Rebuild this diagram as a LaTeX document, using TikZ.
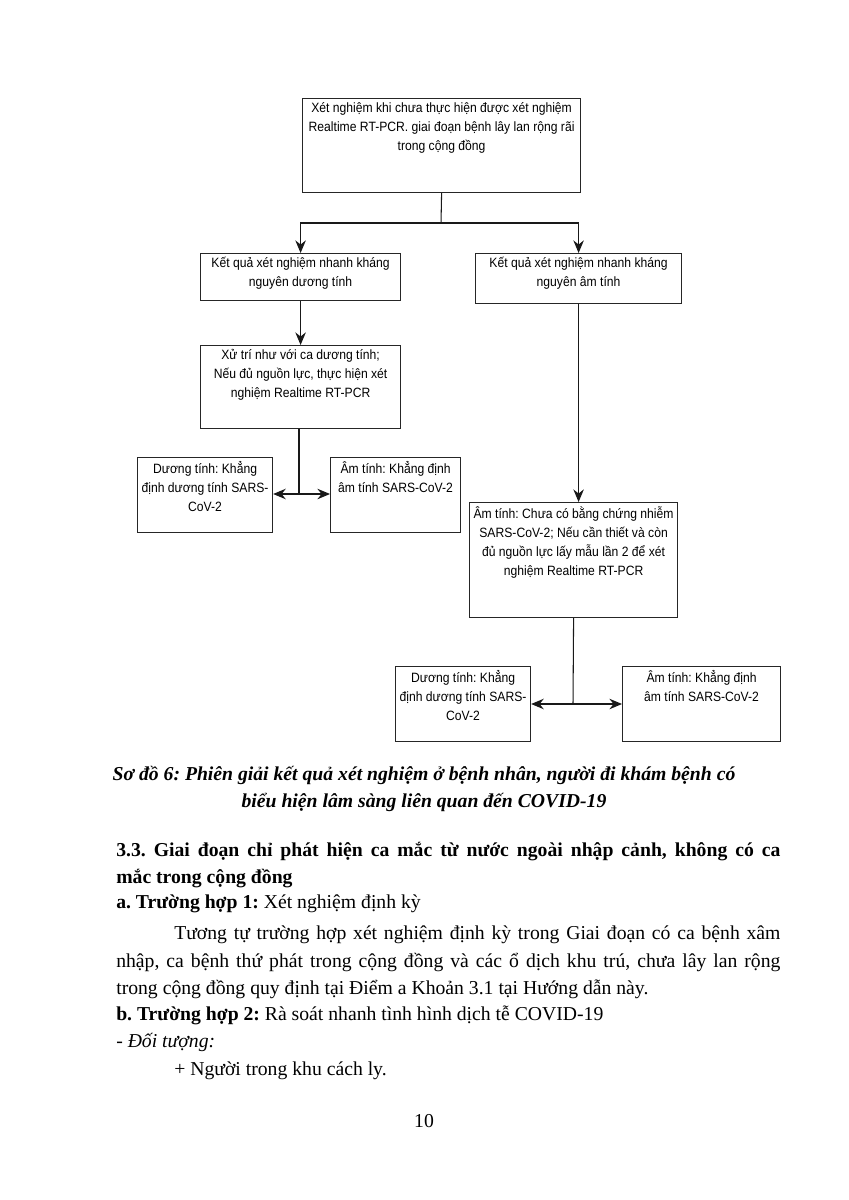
\documentclass[tikz,border=0pt]{standalone}
\usepackage{fontspec}
\setmainfont{Liberation Serif}
\newfontfamily\boxfont[FakeStretch=0.9]{Liberation Sans}
\usetikzlibrary{positioning}
\usetikzlibrary{arrows.meta}
\frenchspacing
\tikzset{frame/.style={draw=black!85, line width=0.8pt, anchor=north west, inner sep=0pt}}
\tikzset{boxtext/.style={font=\boxfont\fontsize{9.6}{13.5}\selectfont, align=center, anchor=north, inner sep=3pt}}
\tikzset{link/.style={line width=0.75pt, black!90}}
\tikzset{arrow/.style={link, -{Stealth[length=9pt,width=7.5pt,inset=3pt]}}}
\tikzset{twoway/.style={link, {Stealth[length=9pt,width=7.5pt,inset=3pt]}-{Stealth[length=9pt,width=7.5pt,inset=3pt]}}}
\tikzset{body/.style={font=\fontsize{14}{19}\selectfont, anchor=base west, inner sep=0pt}}
\tikzset{caption/.style={font=\fontsize{14}{19}\selectfont\bfseries\itshape, anchor=base, inner sep=0pt}}

\begin{document}
\begin{tikzpicture}[x=0.025cm, y=-0.025cm]
	\fill[white] (0,0) rectangle (848,1200);
	\useasboundingbox (0,0) rectangle (848,1200);
	% boxes of the chart
	\node [frame, minimum width=6.95cm, minimum height=2.35cm] (start) at (302,98) {};
	\node [frame, minimum width=5cm, minimum height=1.175cm] (pos) at (200,253) {};
	\node [frame, minimum width=5.15cm, minimum height=1.25cm] (neg) at (475,253) {};
	\node [frame, minimum width=5cm, minimum height=2.075cm] (xutri) at (200,345) {};
	\node [frame, minimum width=3.375cm, minimum height=1.875cm] (dt1) at (137,457) {};
	\node [frame, minimum width=3.25cm, minimum height=1.875cm] (at1) at (330,457) {};
	\node [frame, minimum width=5.2cm, minimum height=2.875cm] (chuaco) at (469,502) {};
	\node [frame, minimum width=3.375cm, minimum height=1.875cm] (dt2) at (395,666) {};
	\node [frame, minimum width=3.95cm, minimum height=1.875cm] (at2) at (622,666) {};
	% texts of the boxes
	\node [boxtext] (starttxt) at (start.north) {Xét nghiệm khi chưa thực hiện được xét nghiệm\\Realtime RT-PCR. giai đoạn bệnh lây lan rộng rãi\\trong cộng đồng};
	\node [boxtext] (postxt) at (pos.north) {Kết quả xét nghiệm nhanh kháng\\nguyên dương tính};
	\node [boxtext] (negtxt) at (neg.north) {Kết quả xét nghiệm nhanh kháng\\nguyên âm tính};
	\node [boxtext] (xutritxt) at (xutri.north) {Xử trí như với ca dương tính;\\Nếu đủ nguồn lực, thực hiện xét\\nghiệm Realtime RT-PCR};
	\node [boxtext] (dt1txt) at (dt1.north) {Dương tính: Khẳng\\định dương tính SARS-\\CoV-2};
	\node [boxtext] (at1txt) at (at1.north) {Âm tính: Khẳng định\\âm tính SARS-CoV-2};
	\node [boxtext] (chuacotxt) at (chuaco.north) {Âm tính: Chưa có bằng chứng nhiễm\\SARS-CoV-2; Nếu cần thiết và còn\\đủ nguồn lực lấy mẫu lần 2 để xét\\nghiệm Realtime RT-PCR};
	\node [boxtext] (dt2txt) at (dt2.north) {Dương tính: Khẳng\\định dương tính SARS-\\CoV-2};
	\node [boxtext] (at2txt) at (at2.north) {Âm tính: Khẳng định\\âm tính SARS-CoV-2};
	% connectors
	\coordinate (fork) at (441,223);
	\coordinate (fork2) at (299,494);
	\coordinate (fork3) at (573,704);
	\draw [link] (start.south) -- (fork);
	\draw [arrow] (fork) -| (pos.north);
	\draw [arrow] (fork) -| (neg.north);
	\draw [arrow] (pos.south) -- (xutri.north);
	\draw [arrow] (neg.south) -- (neg.south |- chuaco.north);
	\draw [link] (fork2 |- xutri.south) -- (fork2);
	\draw [twoway] (dt1.east |- fork2) -- (at1.west |- fork2);
	\draw [link] (chuaco.south) -- (fork3);
	\draw [twoway] (dt2.east |- fork3) -- (at2.west |- fork3);
	% caption and text of the page
	\node [caption] (cap1) at (424,780) {Sơ đồ 6: Phiên giải kết quả xét nghiệm ở bệnh nhân, người đi khám bệnh có};
	\node [caption] (cap2) at (424,807) {biểu hiện lâm sàng liên quan đến COVID-19};
	\node [body] (head1) at (116,856) {\makebox[16.6cm][s]{\bfseries 3.3. Giai đoạn chỉ phát hiện ca mắc từ nước ngoài nhập cảnh, không có ca}};
	\node [body] (head2) at (116,883) {\bfseries mắc trong cộng đồng};
	\node [body] (casea) at (116,908) {\textbf{a. Trường hợp 1:} Xét nghiệm định kỳ};
	\node [body] (para1) at (174,939) {\makebox[15.15cm][s]{Tương tự trường hợp xét nghiệm định kỳ trong Giai đoạn có ca bệnh xâm}};
	\node [body] (para2) at (116,967) {\makebox[16.6cm][s]{nhập, ca bệnh thứ phát trong cộng đồng và các ổ dịch khu trú, chưa lây lan rộng}};
	\node [body] (para3) at (116,994) {trong cộng đồng quy định tại Điểm a Khoản 3.1 tại Hướng dẫn này.};
	\node [body] (caseb) at (116,1020) {\textbf{b. Trường hợp 2:} Rà soát nhanh tình hình dịch tễ COVID-19};
	\node [body] (target) at (116,1047) {\textit{- Đối tượng:}};
	\node [body] (item1) at (174,1075) {+ Người trong khu cách ly.};
	\node [body, anchor=base] (pageno) at (424,1127) {10};
\end{tikzpicture}
\end{document}
